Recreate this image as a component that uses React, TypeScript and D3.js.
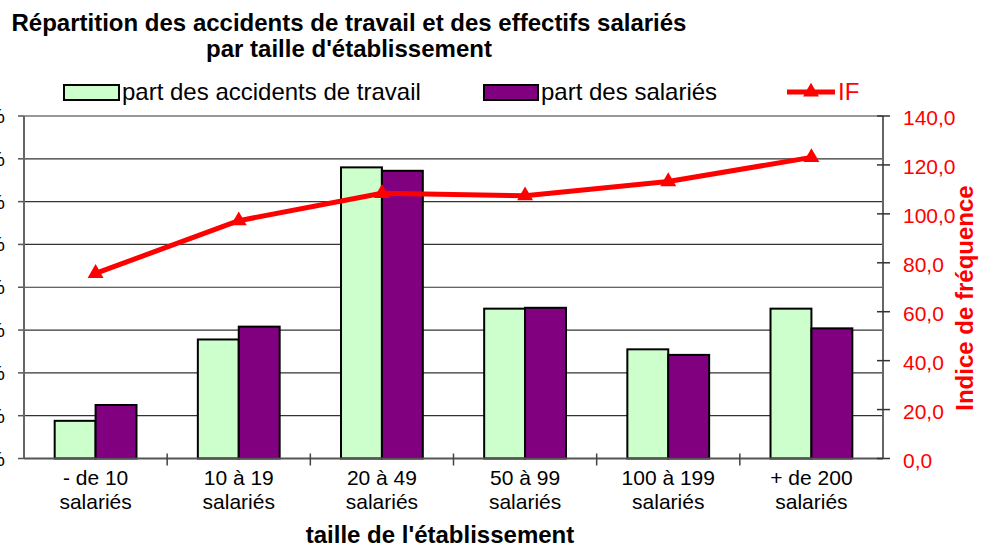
import * as d3 from "d3";

// shares in %
const categories = ["- de 10", "10 à 19", "20 à 49", "50 à 99", "100 à 199", "+ de 200"];
const accidents = [4.4, 13.9, 34.0, 17.5, 12.75, 17.5];
const salaries = [6.25, 15.4, 33.6, 17.6, 12.1, 15.2];
const indiceFrequence = [75.7, 97.2, 108.4, 107.4, 113.2, 123.1];
const leftTicks = [0, 5, 10, 15, 20, 25, 30, 35, 40];
const rightTicks = [0, 20, 40, 60, 80, 100, 120, 140];

const W = 994;
const H = 549;
const FONT = "'Liberation Sans', Arial, Helvetica, sans-serif";
const GREEN = "#ccffcc";
const PURPLE = "#800080";
const RED = "#ff0000";

const plot = { left: 24, right: 883, top: 116, bottom: 458.5 };

export default function App() {
  const x = d3.scaleBand<string>().domain(categories).range([plot.left, plot.right]);
  const sub = d3
    .scaleBand<string>()
    .domain(["acc", "sal"])
    .range([0, x.bandwidth()])
    .paddingInner(0)
    .paddingOuter(0.75);
  const yL = d3.scaleLinear().domain([0, 40]).range([plot.bottom, plot.top]);
  const yR = d3.scaleLinear().domain([0, 140]).range([plot.bottom, plot.top]);
  const cx = (c: string) => (x(c) ?? 0) + x.bandwidth() / 2;

  const line = d3
    .line<number>()
    .x((_, i) => cx(categories[i]))
    .y((d) => yR(d));
  const tri = d3.symbol().type(d3.symbolTriangle).size(110)();

  const fmt = (v: number) => v.toFixed(1).replace(".", ",");

  return (
    <svg
      width={W}
      height={H}
      style={{ position: "absolute", left: 0, top: 0, background: "#fff" }}
      fontFamily={FONT}
    >
      {/* title */}
      <text x={349} y={31} textAnchor="middle" fontSize={24} fontWeight="bold">
        Répartition des accidents de travail et des effectifs salariés
      </text>
      <text x={349} y={57} textAnchor="middle" fontSize={24} fontWeight="bold">
        par taille d'établissement
      </text>

      {/* legend */}
      <rect x={64} y={85} width={55} height={15} fill={GREEN} stroke="#000" strokeWidth={2} />
      <text x={122} y={100} fontSize={24}>part des accidents de travail</text>
      <rect x={484} y={85} width={54} height={15} fill={PURPLE} stroke="#000" strokeWidth={2} />
      <text x={541} y={100} fontSize={24}>part des salariés</text>
      <line x1={787} x2={835} y1={92} y2={92} stroke={RED} strokeWidth={5} />
      <path d={tri ?? ""} transform="translate(811,92)" fill={RED} />
      <text x={838} y={100} fontSize={24} fill={RED}>IF</text>

      {/* gridlines */}
      {leftTicks.map((t) => (
        <line key={t} x1={plot.left} x2={plot.right} y1={yL(t)} y2={yL(t)} stroke="#333" strokeWidth={1.2} />
      ))}
      {/* left ticks + labels (cut at the page edge, like the source) */}
      {leftTicks.map((t) => (
        <g key={"l" + t}>
          <line x1={18} x2={plot.left} y1={yL(t)} y2={yL(t)} stroke="#555" strokeWidth={1.5} />
          <text x={5} y={yL(t) + 7} textAnchor="end" fontSize={21}>{t}%</text>
        </g>
      ))}

      {/* bars */}
      {categories.map((c, i) => (
        <g key={c}>
          <rect
            x={(x(c) ?? 0) + (sub("acc") ?? 0)}
            y={yL(accidents[i])}
            width={sub.bandwidth()}
            height={yL(0) - yL(accidents[i])}
            fill={GREEN}
            stroke="#000"
            strokeWidth={2}
          />
          <rect
            x={(x(c) ?? 0) + (sub("sal") ?? 0)}
            y={yL(salaries[i])}
            width={sub.bandwidth()}
            height={yL(0) - yL(salaries[i])}
            fill={PURPLE}
            stroke="#000"
            strokeWidth={2}
          />
        </g>
      ))}

      {/* axes */}
      <line x1={plot.left} x2={plot.left} y1={plot.top} y2={plot.bottom} stroke="#666" strokeWidth={2} />
      <line x1={plot.right} x2={plot.right} y1={plot.top} y2={plot.bottom} stroke="#666" strokeWidth={2} />
      <line x1={plot.left} x2={plot.right} y1={plot.bottom} y2={plot.bottom} stroke="#555" strokeWidth={2} />
      {categories.slice(1).map((c) => (
        <line key={"b" + c} x1={x(c)} x2={x(c)} y1={plot.bottom - 5} y2={plot.bottom + 7} stroke="#444" strokeWidth={1.5} />
      ))}

      {/* right axis */}
      {rightTicks.map((t) => (
        <g key={"r" + t}>
          <line x1={plot.right - 6} x2={plot.right + 7} y1={yR(t)} y2={yR(t)} stroke="#333" strokeWidth={1.5} />
          <text x={903} y={yR(t) + 9} fontSize={21} fill={RED}>{fmt(t)}</text>
        </g>
      ))}
      <text
        transform="translate(973,298) rotate(-90)"
        textAnchor="middle"
        fontSize={24}
        fontWeight="bold"
        fill={RED}
      >
        Indice de fréquence
      </text>

      {/* IF line */}
      <path d={line(indiceFrequence) ?? ""} fill="none" stroke={RED} strokeWidth={5} strokeLinejoin="round" />
      {indiceFrequence.map((v, i) => (
        <path key={"m" + i} d={tri ?? ""} transform={`translate(${cx(categories[i])},${yR(v)})`} fill={RED} />
      ))}

      {/* category labels */}
      {categories.map((c) => (
        <g key={"c" + c}>
          <text x={cx(c)} y={485} textAnchor="middle" fontSize={21}>{c}</text>
          <text x={cx(c)} y={509} textAnchor="middle" fontSize={21}>salariés</text>
        </g>
      ))}
      <text x={440} y={543} textAnchor="middle" fontSize={24} fontWeight="bold">
        taille de l'établissement
      </text>
    </svg>
  );
}
